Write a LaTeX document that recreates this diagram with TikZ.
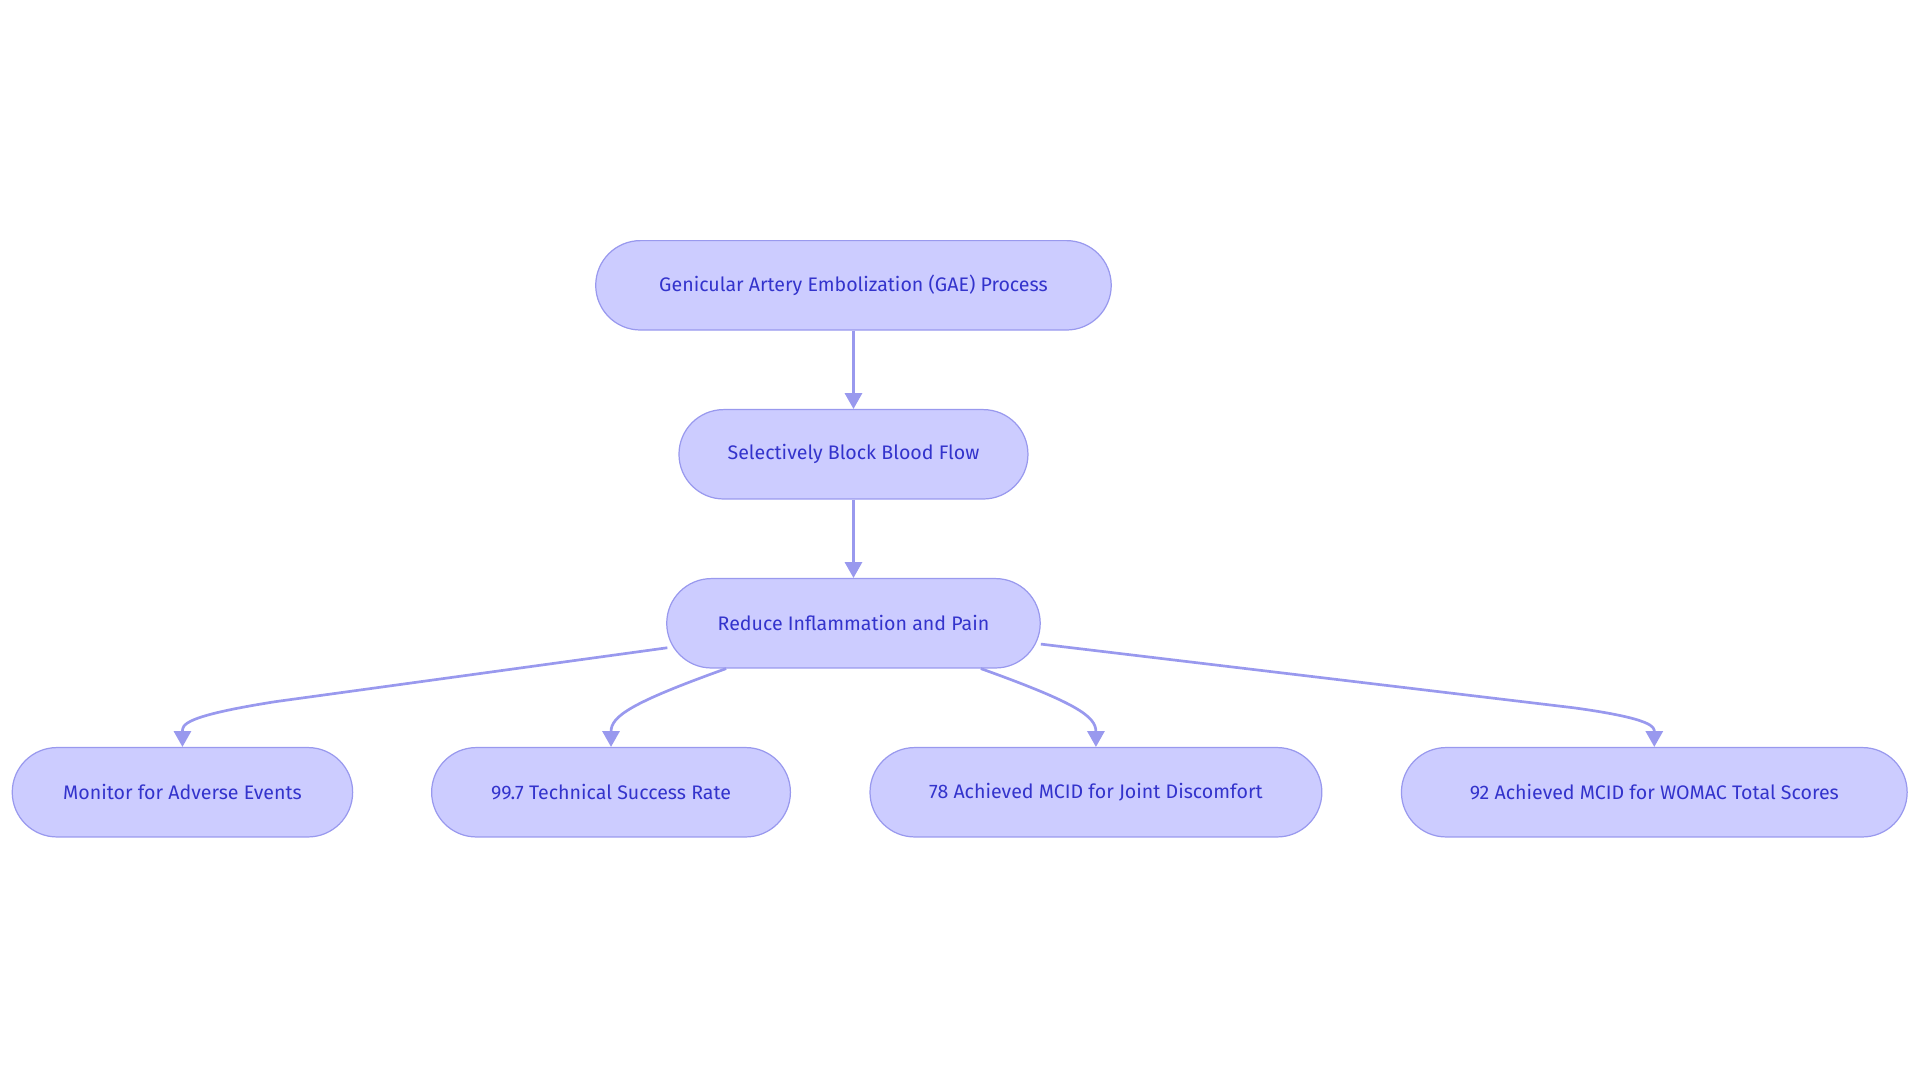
\documentclass[tikz,border=0pt]{standalone}
\usepackage{fontspec}
\setmainfont{Fira Sans}
\usetikzlibrary{arrows.meta,shapes.misc}
\definecolor{nfill}{HTML}{CCCCFF}
\definecolor{nline}{HTML}{9999EE}
\definecolor{ntext}{HTML}{3333CC}
\begin{document}
\begin{tikzpicture}[x=1pt,y=-1pt,
  box/.style={rounded rectangle,draw=nline,fill=nfill,text=ntext,line width=1pt,
    minimum height=73pt,inner xsep=0pt,font=\fontsize{16}{19}\selectfont},
  conn/.style={draw=nline,line width=2.2pt,-{Triangle[length=13pt,width=14pt]}}]
\useasboundingbox (0,0) rectangle (1568,884);
\node[box,minimum width=421pt] (top) at (697,233) {Genicular Artery Embolization (GAE) Process};
\node[box,minimum width=285pt] (sel) at (697,371) {Selectively Block Blood Flow};
\node[box,minimum width=305pt] (red) at (697,509) {Reduce Inflammation and Pain};
\node[box,minimum width=278pt] (mon) at (149,647) {Monitor for Adverse Events};
\node[box,minimum width=293pt] (tec) at (499,647) {99.7 Technical Success Rate};
\node[box,minimum width=369pt] (joi) at (895,647) {78 Achieved MCID for Joint Discomfort};
\node[box,minimum width=413pt] (wom) at (1351,647) {92 Achieved MCID for WOMAC Total Scores};
\draw[conn] (top) -- (sel);
\draw[conn] (sel) -- (red);
\coordinate (a1) at (545,529);
\coordinate (a2) at (593,546);
\coordinate (a3) at (801,546);
\coordinate (a4) at (850,526);
\draw[conn] (a1) -- (225,573) .. controls (149,585) and (149,592) .. (mon.north);
\draw[conn] (a2) .. controls (515,574) and (499,585) .. (tec.north);
\draw[conn] (a3) .. controls (879,574) and (895,585) .. (joi.north);
\draw[conn] (a4) -- (1285,578) .. controls (1351,587) and (1351,594) .. (wom.north);
\end{tikzpicture}
\end{document}
